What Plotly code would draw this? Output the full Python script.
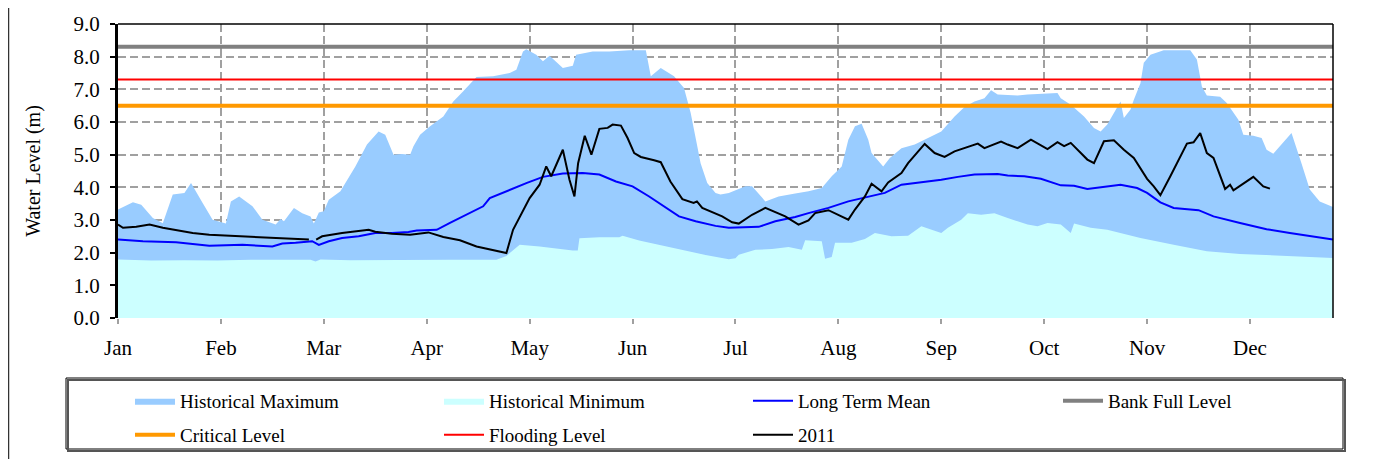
import plotly.graph_objects as go

# ---- data (x = day of year, axis ticks every 31 days) ----
month_labels = ["Jan", "Feb", "Mar", "Apr", "May", "Jun", "Jul", "Aug", "Sep", "Oct", "Nov", "Dec"]
month_ticks = [0, 31, 62, 93, 124, 155, 186, 217, 248, 279, 310, 341]

max_days = [0, 4.5, 7, 10.5, 13.5, 16.5, 20, 22, 25.5, 28.5, 32.5, 34, 36.5, 40.5, 43.5, 47.5, 49, 50, 53, 55.5, 58, 59,
            60.5, 62, 63.5, 67, 71.5, 75, 78.5, 80.5, 83, 85.5, 88, 89, 91, 94, 98, 101, 104, 108, 113, 118, 120, 122,
            123, 126, 128, 130, 134, 137, 138, 143, 148, 154, 159, 160.5, 163.5, 167.5, 170.5, 172.5, 174.5, 175.5,
            177.5, 180, 181.5, 184, 189, 191, 195, 199, 204, 208, 212, 215, 218, 220, 222, 224, 226, 227, 230.5, 232.5,
            236, 240, 244, 248, 252, 255, 258, 261, 263, 265, 271, 274, 283, 284, 287, 291, 294, 296, 298, 300, 302,
            303, 305, 306, 308, 309, 311, 315, 323, 325, 326.5, 328, 332, 334, 337.5, 339, 342, 344.5, 346, 348, 351,
            353.5, 356.5, 359, 362, 366]
max_vals = [3.32, 3.54, 3.47, 3.06, 2.9, 3.78, 3.83, 4.13, 3.52, 3.01, 2.89, 3.57, 3.72, 3.42, 3.01, 2.86, 3.03, 2.96,
            3.37, 3.21, 3.11, 2.89, 3.23, 3.27, 3.62, 3.88, 4.64, 5.31, 5.71, 5.61, 5.0, 5.02, 5.0, 5.26, 5.61, 5.87,
            6.17, 6.63, 6.94, 7.38, 7.4, 7.5, 7.6, 8.16, 8.23, 8.06, 7.86, 8.03, 7.65, 7.72, 8.06, 8.16, 8.16, 8.2,
            8.2, 7.4, 7.65, 7.4, 7.04, 6.28, 5.26, 4.74, 4.13, 3.83, 3.78, 3.83, 4.03, 4.03, 3.57, 3.72, 3.81, 3.88,
            3.98, 4.34, 4.64, 5.46, 5.87, 5.95, 5.46, 5.05, 4.64, 4.9, 5.2, 5.31, 5.51, 5.71, 6.17, 6.46, 6.63, 6.73,
            6.97, 6.84, 6.81, 6.84, 6.89, 6.73, 6.53, 6.17, 5.82, 5.71, 5.92, 6.28, 6.63, 6.12, 6.38, 6.68, 7.19,
            7.81, 8.06, 8.2, 8.2, 7.91, 7.09, 6.81, 6.77, 6.58, 6.07, 5.61, 5.58, 5.51, 5.15, 5.03, 5.36, 5.66, 4.74,
            3.93, 3.57, 3.4]

min_days = [0, 10, 20, 30, 40, 50, 58, 59.5, 61, 70, 80, 90, 100, 114, 117, 121, 127, 137, 138.5, 139, 145, 151, 152,
            157, 167, 177, 184, 186, 187, 192, 197, 202, 206, 207, 212, 213, 215, 216, 221, 225, 228, 233, 238, 242,
            248, 250, 254, 256, 260, 264, 268, 271, 274, 277, 280, 284, 287, 288, 293, 298, 308, 318, 328, 338, 348,
            366]
min_vals = [1.79, 1.76, 1.77, 1.76, 1.78, 1.79, 1.78, 1.73, 1.79, 1.77, 1.78, 1.77, 1.78, 1.78, 1.9, 2.24, 2.19, 2.07,
            2.07, 2.44, 2.47, 2.47, 2.52, 2.37, 2.14, 1.93, 1.8, 1.83, 1.94, 2.09, 2.11, 2.17, 2.09, 2.38, 2.35, 1.81,
            1.87, 2.3, 2.3, 2.42, 2.6, 2.5, 2.52, 2.81, 2.6, 2.76, 3.01, 3.21, 3.16, 3.21, 3.06, 2.96, 2.86, 2.81,
            2.91, 2.86, 2.6, 2.89, 2.76, 2.7, 2.45, 2.24, 2.04, 1.96, 1.91, 1.84]

mean_days = [0, 7.5, 17.5, 27.5, 37.5, 46.5, 49.5, 53.5, 58.5, 60.5, 63.5, 67.5, 72.5, 77.5, 82.5, 87.5, 90, 96, 100,
             104, 106, 110, 112, 118, 123, 128, 134, 140, 145, 150, 155, 160, 165, 169, 174, 180, 184, 193, 198, 204,
             208, 214, 220, 226, 231, 236, 243, 248, 253, 258, 265, 268, 273, 278, 284, 288, 292, 298, 302, 307, 310,
             314, 318, 325.5, 330, 338, 346, 353, 366]
mean_vals = [2.4, 2.35, 2.32, 2.21, 2.24, 2.19, 2.28, 2.3, 2.35, 2.24, 2.35, 2.45, 2.5, 2.6, 2.6, 2.63, 2.68, 2.7,
             2.91, 3.11, 3.23, 3.42, 3.67, 3.93, 4.13, 4.32, 4.42, 4.44, 4.39, 4.18, 4.03, 3.72, 3.37, 3.11, 2.96,
             2.82, 2.76, 2.79, 2.96, 3.09, 3.21, 3.37, 3.57, 3.72, 3.83, 4.08, 4.16, 4.23, 4.32, 4.39, 4.41, 4.36,
             4.34, 4.26, 4.06, 4.05, 3.95, 4.03, 4.08, 3.98, 3.83, 3.54, 3.37, 3.3, 3.11, 2.91, 2.72, 2.6, 2.4]

y2011_days = [0, 1.5, 5.5, 9.5, 13.5, 17.5, 22.5, 27.5, 37.5, 47.5, 57.5, None, 59.7, 61.5, 67.5, 75.5, 77.5, 82.5,
              88, 93.5, 98, 103, 108, 113, 117, 119, 122, 124, 127, 129, 130.5, 134, 136, 137.5, 138.6, 140.6, 142.6,
              145, 147.5, 149, 151.5, 153.5, 155.5, 157.5, 161.5, 163.5, 166.4, 170, 173.4, 174.4, 176, 180, 182,
              185, 187, 191, 195, 201, 205, 208, 210, 214, 220, 222, 225, 227, 230, 232, 236, 238, 241, 243, 246,
              249, 252, 255, 259, 261, 266, 268, 271, 275, 280, 283, 285, 287, 292, 294, 297, 300, 303, 306, 310,
              312, 314, 317, 322, 324, 326, 328, 330, 333.5, 335, 336, 342, 345, 347]
y2011_vals = [2.86, 2.76, 2.79, 2.86, 2.76, 2.68, 2.6, 2.55, 2.5, 2.43, 2.4, None, 2.4, 2.5, 2.6, 2.7, 2.64, 2.58,
              2.55, 2.62, 2.48, 2.38, 2.19, 2.07, 1.99, 2.7, 3.27, 3.67, 4.08, 4.64, 4.34, 5.15, 4.23, 3.72, 4.74,
              5.58, 5.0, 5.79, 5.82, 5.92, 5.89, 5.51, 5.05, 4.93, 4.83, 4.77, 4.18, 3.64, 3.52, 3.57, 3.37, 3.21,
              3.11, 2.93, 2.89, 3.16, 3.37, 3.11, 2.86, 2.99, 3.21, 3.3, 3.01, 3.32, 3.72, 4.11, 3.88, 4.15, 4.44,
              4.74, 5.1, 5.33, 5.05, 4.93, 5.1, 5.2, 5.34, 5.2, 5.4, 5.31, 5.2, 5.46, 5.17, 5.38, 5.26, 5.36, 4.85,
              4.74, 5.41, 5.44, 5.15, 4.9, 4.26, 4.03, 3.76, 4.34, 5.34, 5.38, 5.66, 5.05, 4.9, 3.95, 4.08, 3.91,
              4.32, 4.03, 3.96]

x_span = [0, 366]
bank_full = 8.3
critical = 6.5
flooding = 7.3

FONT = "Liberation Serif"

# page offset (body margin) compensation: reference pixel p -> figure pixel p - OFF
OFF = 8
FIG_W, FIG_H = 1377 - OFF, 459 - OFF
PLOT_L, PLOT_R, PLOT_T, PLOT_B = 118 - OFF, 1333 - OFF, 24 - OFF, 318 - OFF
H = float(PLOT_B - PLOT_T)
W = float(PLOT_R - PLOT_L)


def py(p):
    return (PLOT_B - (p - OFF)) / H


def px(p):
    return ((p - OFF) - PLOT_L) / W


fig = go.Figure()
fig.add_trace(go.Scatter(x=max_days, y=max_vals, name="Historical Maximum", mode="lines", fill="tozeroy",
                         fillcolor="#99CCFF", line=dict(width=0, color="#99CCFF"), legend="legend"))
fig.add_trace(go.Scatter(x=min_days, y=min_vals, name="Historical Minimum", mode="lines", fill="tozeroy",
                         fillcolor="#CCFFFF", line=dict(width=0, color="#CCFFFF"), legend="legend2"))
fig.add_trace(go.Scatter(x=mean_days, y=mean_vals, name="Long Term Mean", mode="lines",
                         line=dict(width=2, color="#0000FF"), legend="legend3"))
fig.add_trace(go.Scatter(x=x_span, y=[bank_full] * 2, name="Bank Full Level", mode="lines",
                         line=dict(width=4, color="#808080"), legend="legend4"))
fig.add_trace(go.Scatter(x=x_span, y=[critical] * 2, name="Critical Level", mode="lines",
                         line=dict(width=4, color="#FF9900"), legend="legend5"))
fig.add_trace(go.Scatter(x=x_span, y=[flooding] * 2, name="Flooding Level", mode="lines",
                         line=dict(width=2, color="#FF0000"), legend="legend6"))
fig.add_trace(go.Scatter(x=y2011_days, y=y2011_vals, name="2011", mode="lines", connectgaps=False,
                         line=dict(width=2, color="#000000"), legend="legend7"))

# legend entry text positions (reference px): (text_left_x, center_y)
legend_pos = [(180, 401), (489, 401), (798, 401), (1108, 401), (180, 435), (489, 435), (798, 435)]
TEXT_OFFSET = 50


def legend_cfg(tx, ty):
    return dict(orientation="h", font=dict(family=FONT, size=19, color="#000000"),
                bgcolor="rgba(0,0,0,0)", xref="container", yref="container",
                x=(tx - OFF - TEXT_OFFSET) / FIG_W, y=1 - (ty - OFF) / FIG_H,
                xanchor="left", yanchor="middle", itemwidth=40, borderwidth=0)


legends = {("legend" if i == 0 else "legend%d" % (i + 1)): legend_cfg(*p) for i, p in enumerate(legend_pos)}

grid_dash = "8px,4px"
fig.update_layout(
    template="none",
    width=FIG_W, height=FIG_H,
    margin=dict(l=PLOT_L, r=FIG_W - PLOT_R, t=PLOT_T, b=FIG_H - PLOT_B),
    paper_bgcolor="white", plot_bgcolor="white",
    font=dict(family=FONT, color="#000000"),
    showlegend=True,
    xaxis=dict(range=[0, 366], tickvals=month_ticks, ticktext=month_labels, automargin=False,
               showgrid=True, gridcolor="#A0A0A0", griddash=grid_dash, gridwidth=1.5,
               ticks="outside", ticklen=5, tickcolor="#A0A0A0", tickwidth=1.5,
               tickfont=dict(family=FONT, size=21, color="#000000"), ticklabelstandoff=6,
               showline=False, zeroline=False, fixedrange=True),
    yaxis=dict(range=[0, 9], tickvals=[0, 1, 2, 3, 4, 5, 6, 7, 8, 9], tickformat=".1f", automargin=False,
               showgrid=True, gridcolor="#A0A0A0", griddash=grid_dash, gridwidth=1.5,
               ticks="outside", ticklen=5, tickcolor="#000000", tickwidth=1.5,
               tickfont=dict(family=FONT, size=21, color="#000000"), ticklabelstandoff=6,
               showline=True, linecolor="#000000", linewidth=3, zeroline=False, fixedrange=True,
               title=dict(text="Water Level (m)", font=dict(family=FONT, size=20, color="#000000"), standoff=28)),
    shapes=[
        # plot frame top & right
        dict(type="line", xref="paper", yref="paper", x0=0, x1=1, y0=1, y1=1, line=dict(color="#000", width=1.5)),
        dict(type="line", xref="paper", yref="paper", x0=1, x1=1, y0=0, y1=1, line=dict(color="#000", width=1.5)),
        # legend box shadow + box
        dict(type="rect", xref="paper", yref="paper", x0=px(68), x1=px(1345), y0=py(451), y1=py(380),
             line=dict(color="#555", width=2), fillcolor="rgba(0,0,0,0)"),
        dict(type="rect", xref="paper", yref="paper", x0=px(66), x1=px(1343), y0=py(449), y1=py(378),
             line=dict(color="#000", width=1), fillcolor="white", layer="below"),
        # outer chart border
        dict(type="rect", xref="paper", yref="paper", x0=px(8.5), x1=px(1371), y0=py(470), y1=py(5),
             line=dict(color="#333", width=1.5), fillcolor="rgba(0,0,0,0)"),
    ],
    **legends,
)

fig.write_html("out.html")
